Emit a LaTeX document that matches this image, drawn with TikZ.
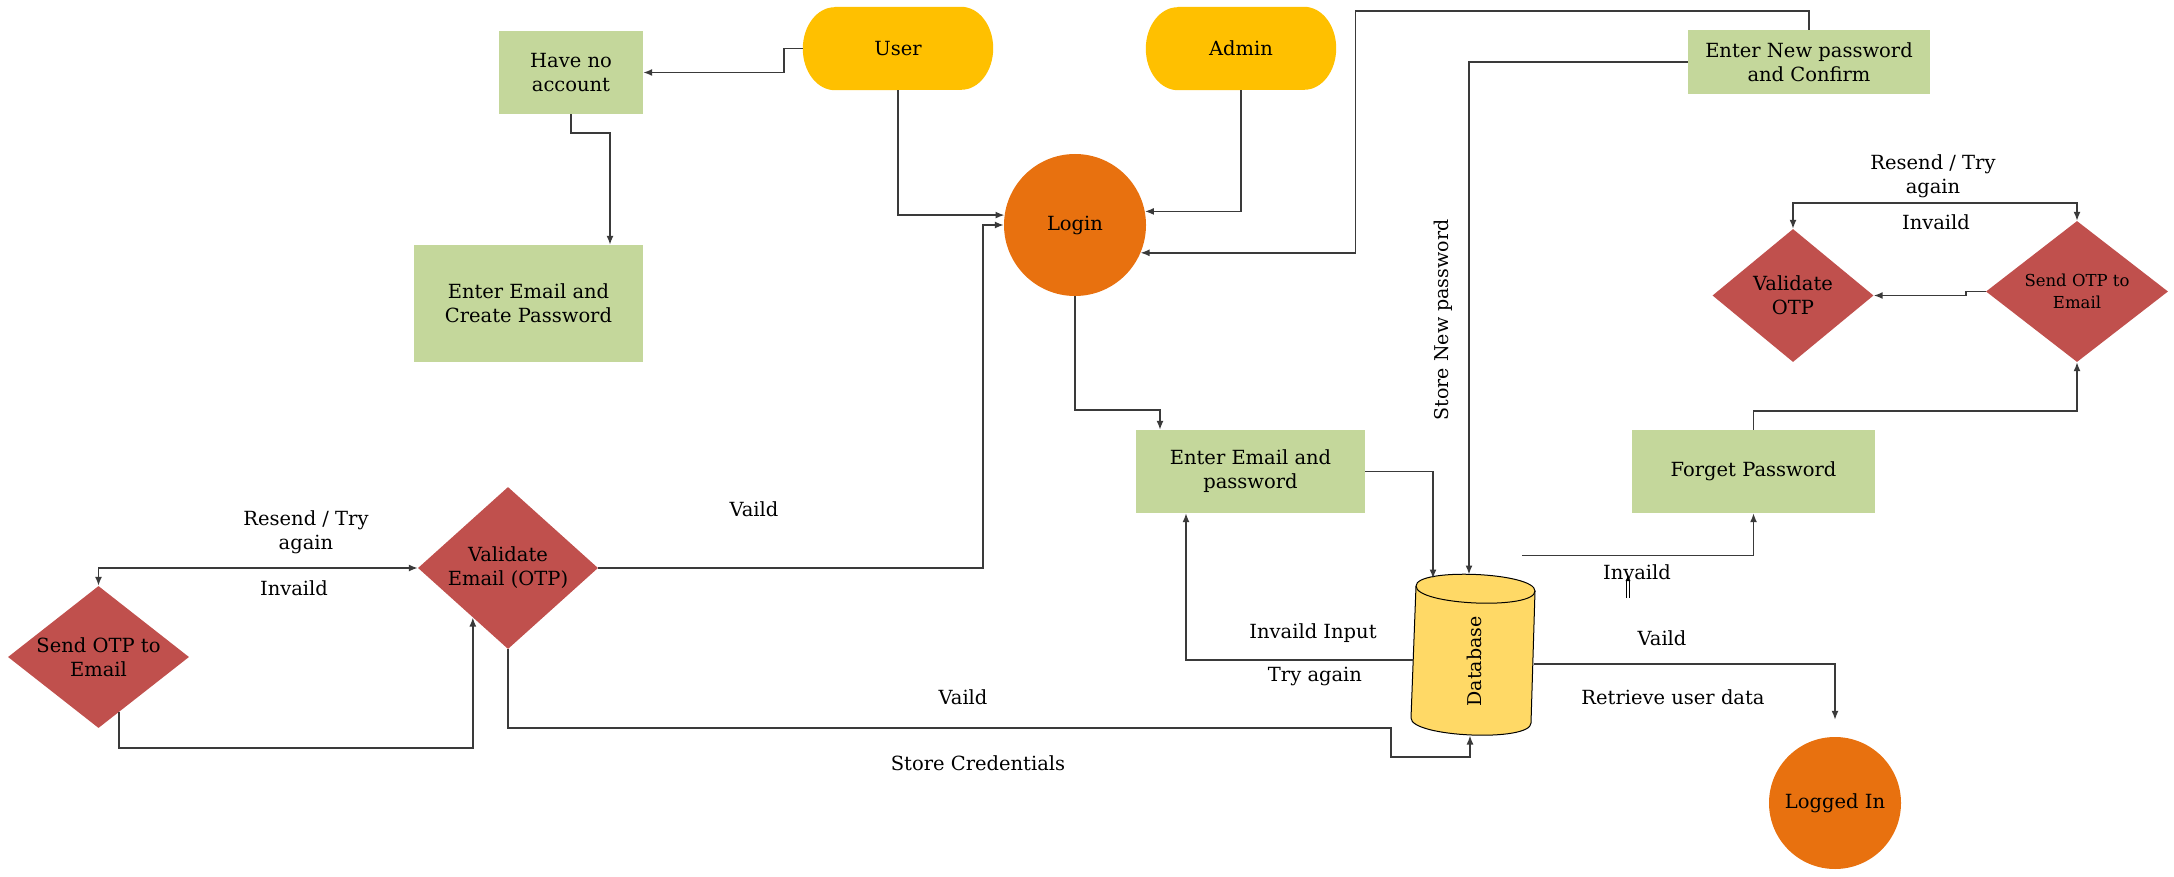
\documentclass[tikz,border=0pt]{standalone}
\usepackage{fontspec}
\setmainfont{DejaVu Serif}
\usetikzlibrary{arrows.meta,shapes.geometric,calc,backgrounds}
\definecolor{termyellow}{HTML}{FFC000}
\definecolor{circorange}{HTML}{E8710F}
\definecolor{boxgreen}{HTML}{C4D79B}
\definecolor{diared}{HTML}{C0504D}
\definecolor{dbgold}{HTML}{FFD966}
\definecolor{linegray}{HTML}{3A3A3A}
\begin{document}
\begin{tikzpicture}[x=1pt,y=-1pt,
  txt/.style={font=\fontsize{19.5}{24}\selectfont, align=center, inner sep=0pt},
  term/.style={rectangle, minimum width=190pt, minimum height=83pt, txt},
  proc/.style={rectangle, fill=boxgreen, txt},
  decide/.style={diamond, fill=diared, inner sep=0pt},
  circ/.style={circle, fill=circorange, txt},
  conn/.style={draw=linegray, line width=1.5pt, -{Latex[length=9pt,width=7pt]}},
  conntwo/.style={draw=linegray, line width=1.5pt, {Latex[length=9pt,width=7pt]}-{Latex[length=9pt,width=7pt]}},
  lbl/.style={txt}]
\useasboundingbox (0,0) rectangle (2174,877);

% nodes
\node[term] (user) at (898,48.5) {User};
\node[term] (admin) at (1241,48.5) {Admin};
\node[proc, minimum width=144pt, minimum height=83pt] (noacc) at (571,72.5) {Have no\\account};
\node[proc, minimum width=229pt, minimum height=117pt] (create) at (528.5,303.5) {Enter Email and\\Create Password};
\node[circ, minimum size=142pt] (login) at (1075,225) {Login};
\node[proc, minimum width=242pt, minimum height=64pt] (newpw) at (1809,62) {Enter New password\\and Confirm};
\node[decide, minimum width=161pt, minimum height=133pt,
  label={[txt]center:Validate\\OTP}] (valotp) at (1793,295.5) {};
\node[decide, minimum width=182pt, minimum height=141pt,
  label={[txt, font=\fontsize{16.5}{22}\selectfont]center:Send OTP to\\Email}] (sendotpR) at (2077,291.5) {};
\node[proc, minimum width=229pt, minimum height=83pt] (emailpw) at (1250.5,471.5) {Enter Email and\\password};
\node[proc, minimum width=243pt, minimum height=83pt] (forget) at (1753.5,471.5) {Forget Password};
\node[rectangle, minimum width=124pt, minimum height=161pt, inner sep=0pt] (db) at (1474,654.5) {};
\node[circ, minimum size=132pt] (loggedin) at (1835,803) {Logged In};
\node[decide, minimum width=180pt, minimum height=162pt,
  label={[txt]center:Validate\\Email (OTP)}] (valemail) at (508,568) {};
\node[decide, minimum width=181pt, minimum height=142pt,
  label={[txt]center:Send OTP to\\Email}] (sendotpL) at (98.5,657) {};

% terminator and database bodies, drawn behind the texts
\begin{scope}[on background layer]
\foreach \n in {user,admin}{
  \fill[termyellow] ($(\n.north west)+(32,0)$) -- ($(\n.north east)+(-32,0)$)
    arc[start angle=-90, end angle=90, x radius=32, y radius=41.5]
    -- ($(\n.south west)+(32,0)$)
    arc[start angle=90, end angle=270, x radius=32, y radius=41.5] -- cycle;
}
\begin{scope}[shift={(db.center)}]
  \filldraw[fill=dbgold, draw=black, line width=1pt]
    (-58,-68.5) .. controls (-58,-87.2) and (61,-82.2) .. (61,-63.5)
    -- (57,68.5) .. controls (57,87.8) and (-63,82.8) .. (-63,63.5) -- cycle;
  \draw[black, line width=1pt]
    (-58,-68.5) .. controls (-58,-49.2) and (61,-44.2) .. (61,-63.5);
\end{scope}
\end{scope}
\node[txt, rotate=90, font=\fontsize{19}{22}\selectfont] (dbtxt) at ($(db.center)+(0,7)$) {Database};

% labels
\node[lbl] (l1) at (306,532) {Resend / Try\\again};
\node[lbl] (l2) at (294,588) {Invaild};
\node[lbl] (l3) at (754,509) {Vaild};
\node[lbl] (l4) at (963,697) {Vaild};
\node[lbl] (l5) at (978,763) {Store Credentials};
\node[lbl] (l6) at (1313,633) {Invaild Input};
\node[lbl] (l7) at (1315,676) {Try again};
\node[lbl] (l8) at (1637,572) {Invaild};
\node[lbl] (l9) at (1662,638) {Vaild};
\node[lbl] (l10) at (1673,697) {Retrieve user data};
\node[lbl] (l11) at (1933,176) {Resend / Try\\again};
\node[lbl] (l12) at (1936,222) {Invaild};
\node[lbl, rotate=90, font=\fontsize{19}{22}\selectfont] (l13) at (1443,320) {Store New password};

% connectors
\draw[conn] (user.west) -- ++(-19,0) |- (noacc.east);
\draw[conn] (noacc.south) -- ++(0,19) -| ($(create.north)+(81.5,0)$);
\draw[conn] (user.south) |- (login.172);
\draw[conn] (admin.south) |- (login.11);
\draw[conn] (newpw.north) -- ++(0,-19) -| ($(login.-23)+(215,0)$) -- (login.-23);
\draw[conn] (newpw.west) -| ($(db.center)+(-5,-80)$);
\draw[conn] (login.south) -- ++(0,114) -| ($(emailpw.north)+(-90.5,0)$);
\draw[conn] (emailpw.east) -| ($(db.center)+(-41,-76)$);
\draw[conn] ($(db.center)+(-61,5.5)$) -| ($(emailpw.south)+(-64.5,0)$);
\draw[conn, shorten >=17pt] ($(db.center)+(60,9.5)$) -| (loggedin.north);
\draw[conn] ($(db.center)+(48,-99)$) -| (forget.south);
\draw[conn] (forget.north) -- ++(0,-19) -| (sendotpR.south);
\draw[conn] (sendotpR.west) -- ++(-20,0) |- (valotp.east);
\draw[conntwo] (valotp.north) |- ($(sendotpR.north)+(0,-18)$) -- (sendotpR.north);
\draw[conntwo] (sendotpL.north) |- (valemail.west);
\draw[conn] ($(sendotpL.south)!0.227!(sendotpL.east)$) -- ++(0,36) -| ($(valemail.west)!0.61!(valemail.south)$);
\draw[conn] (valemail.east) -| ($(login.west)+(-21,0)$) -- (login.west);
\draw[conn] (valemail.south) |- ($(db.center)+(-83,73.5)$) |- ($(db.center)+(-4,102.5)$) -- ($(db.center)+(-4,81)$);

% small stray arrow near the Invaild label
\coordinate (art1) at (1628,598);
\coordinate (art2) at (1628,575);
\draw[line width=0.5pt, double, double distance=2.5pt, -{Latex[length=6pt,width=5pt]}] (art1) -- (art2);
\end{tikzpicture}
\end{document}
